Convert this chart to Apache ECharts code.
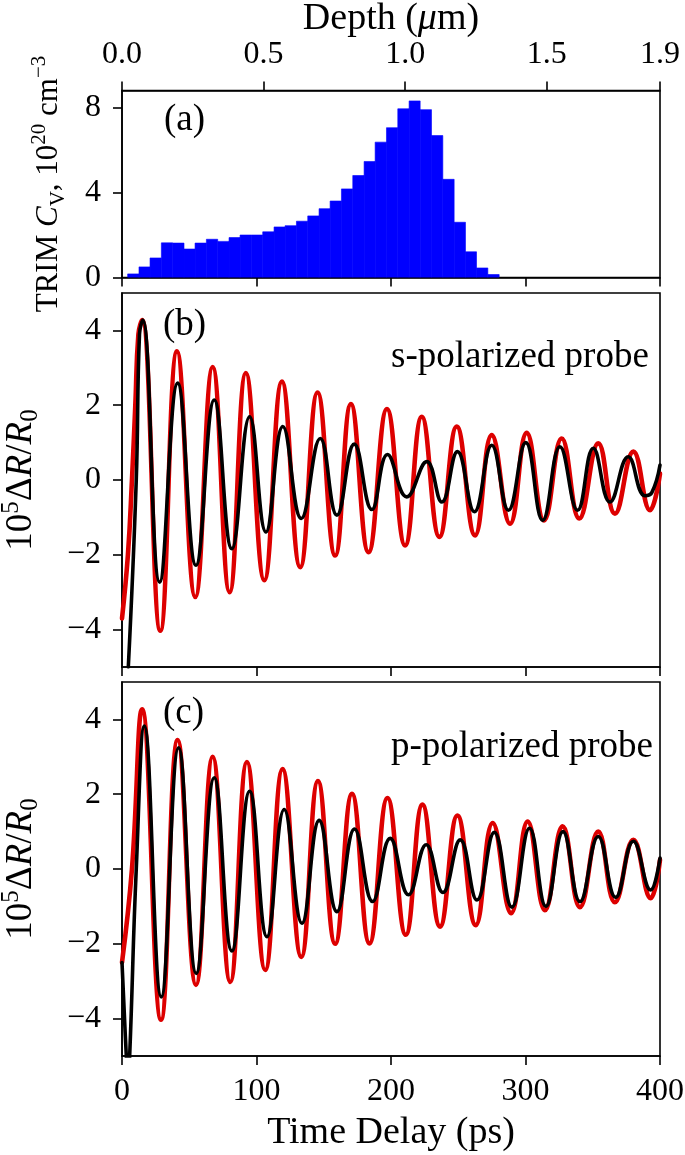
<!DOCTYPE html>
<html>
<head>
<meta charset="utf-8">
<script src="https://cdn.jsdelivr.net/npm/echarts@6/dist/echarts.min.js"></script>
<style>
html,body{margin:0;padding:0;background:#fff;}
#chart{width:685px;height:1155px;}
</style>
</head>
<body>
<div id="chart"></div>
<script>
// ---------- data ----------
// (a) TRIM vacancy concentration histogram: bin edges in depth (um) and heights (1e20 cm^-3)
const depthBinEdges = [0.020,0.060,0.099,0.139,0.179,0.219,0.258,0.298,0.338,0.378,0.417,0.457,0.497,0.537,0.576,0.616,0.656,0.696,0.735,0.775,0.815,0.855,0.894,0.934,0.974,1.014,1.053,1.093,1.133,1.173,1.213,1.252,1.292,1.332];
const cvValues = [0.17,0.50,0.92,1.63,1.62,1.34,1.62,1.80,1.70,1.88,2.00,2.00,2.15,2.38,2.44,2.65,2.90,3.24,3.60,4.17,4.80,5.46,6.37,7.05,7.94,8.31,7.90,6.68,4.62,2.60,1.21,0.45,0.14];
const depthTicks = [0, 0.5, 1.0, 1.5, 1.9];
const cvTicks = [0, 4, 8];
const drTicks = [-4, -2, 0, 2, 4];
const timeTicks = [0, 100, 200, 300, 400];

// (b) s-polarized probe: [time ps, 1e5 dR/R0]
const sRed = [[0,-3.7],[4.4,-2],[7.4,0],[9.9,2],[12.2,3.9],[14.9,4.28],[28.5,-4.03],[40.9,3.44],[54.5,-3.13],[67.4,3.02],[80,-3.0],[92.1,2.86],[105.8,-2.68],[118.9,2.63],[132.5,-2.33],[145.4,2.34],[158.5,-2.02],[170.2,2.03],[183.3,-1.93],[197,1.9],[210.5,-1.75],[222.9,1.69],[236,-1.52],[248.9,1.43],[262.5,-1.48],[274.9,1.2],[288.5,-1.17],[300.9,1.26],[313.8,-1.08],[326.9,1.11],[340,-1.03],[354.1,0.98],[366.5,-0.9],[380.2,0.76],[392.6,-0.81],[400,0.17]];
const sBlack = [[4.7,-5],[10.6,0],[13,3.9],[15.4,4.28],[28,-2.73],[41.4,2.59],[55,-2.28],[68.6,2.14],[81.7,-1.84],[94.9,1.69],[107,-1.39],[119.6,1.43],[133.3,-1.03],[147.4,1.11],[159.8,-0.94],[172.7,0.96],[185.8,-0.79],[197.4,0.68],[211.7,-0.45],[226.6,0.49],[237.8,-0.59],[249.4,0.76],[262,-0.85],[274.9,0.93],[287.3,-0.81],[300.2,1.0],[312.8,-1.08],[325.6,0.89],[338.7,-0.81],[350.4,0.85],[362.8,-0.59],[376.4,0.62],[388.8,-0.42],[394,-0.33],[400,0.4]];

// (c) p-polarized probe
const pRed = [[0,-2.5],[7.4,0],[14.9,4.27],[29,-4.03],[41.4,3.45],[55,-3.1],[67.4,3.0],[80.5,-3.02],[92.9,2.86],[106.5,-2.7],[119.4,2.67],[133.3,-2.35],[145.7,2.35],[158.5,-2.0],[171,2.01],[184,-1.99],[197.4,1.9],[211,-1.76],[223.4,1.72],[236.5,-1.54],[249.4,1.43],[263,-1.5],[275.6,1.23],[289.3,-1.18],[301.6,1.27],[314.5,-1.1],[327.6,1.14],[340.5,-1.02],[354.1,1.0],[366.5,-0.89],[380.2,0.78],[393.1,-0.78],[400,0.25]];
const pBlack = [[0,-2.5],[3.2,-5],[4.3,-5.6],[5.7,-5],[10.6,0],[16.6,3.82],[29.2,-3.42],[42.1,3.24],[55.2,-2.79],[68.6,2.44],[81.7,-2.19],[94.9,2.08],[107.8,-1.81],[120.6,1.59],[133.8,-1.45],[146.6,1.3],[159.8,-1.14],[172.9,1.07],[186.3,-0.87],[199.4,0.82],[213,-0.69],[226.2,0.65],[238.6,-0.63],[251.5,0.78],[263.9,-0.83],[276.8,0.98],[289.9,-1.02],[303,1.09],[315.2,-1.0],[327.9,1.0],[340.5,-0.87],[354.1,0.87],[367,-0.76],[380.2,0.74],[393,-0.56],[400,0.29]];

// ---------- chart ----------
const FONT = "'Liberation Serif', 'DejaVu Serif', serif";
const RED = '#dd0000';
const histData = cvValues.map((v, i) => [depthBinEdges[i], depthBinEdges[i + 1], v]);
const minus = v => (v < 0 ? '\u2212' + Math.abs(v) : String(v));

const lineW = 1.6;
function axisCommon() {
  return {
    axisLine: { show: true, onZero: false, lineStyle: { color: '#000', width: lineW } },
    axisTick: { show: true, inside: false, length: 9, lineStyle: { color: '#000', width: lineW } },
    splitLine: { show: false },
    axisLabel: { color: '#000', fontFamily: FONT, fontSize: 32 }
  };
}
function timeAxis(gridIndex, showLabels) {
  const a = axisCommon();
  return Object.assign(a, {
    type: 'value', gridIndex, min: 0, max: 400, interval: 100, position: 'bottom',
    axisLabel: Object.assign(a.axisLabel, { show: showLabels, margin: 20 })
  });
}
function drAxis(gridIndex) {
  const a = axisCommon();
  return Object.assign(a, {
    type: 'value', gridIndex, min: -5, max: 5,
    axisTick: Object.assign(a.axisTick, { customValues: drTicks }),
    axisLabel: Object.assign(a.axisLabel, { customValues: drTicks, margin: 21, formatter: minus }),
    name: '{n|10}{sup|5}{n|\u0394}{i|R}{n|/}{i|R}{sub|0}',
    nameLocation: 'middle', nameGap: 79,
    nameTextStyle: {
      color: '#000', fontFamily: FONT,
      rich: {
        n: { fontSize: 37, lineHeight: 44, fontFamily: FONT, color: '#000' },
        i: { fontSize: 37, lineHeight: 44, fontFamily: FONT, fontStyle: 'italic', color: '#000' },
        sup: { fontSize: 25, lineHeight: 44, fontFamily: FONT, verticalAlign: 'top', color: '#000' },
        sub: { fontSize: 25, lineHeight: 44, fontFamily: FONT, verticalAlign: 'bottom', color: '#000' }
      }
    }
  });
}
const gridBase = { left: 122, right: 25, show: true, borderColor: '#000', borderWidth: lineW, outerBoundsMode: 'none', containLabel: false };

const depthAxis = (function () {
  const a = axisCommon();
  return Object.assign(a, {
    type: 'value', gridIndex: 0, position: 'top', min: 0, max: 1.9,
    axisTick: Object.assign(a.axisTick, { customValues: depthTicks }),
    axisLabel: Object.assign(a.axisLabel, { customValues: depthTicks, margin: 20, formatter: v => v.toFixed(1) }),
    name: '{n|Depth (}{i|\u03bc}{n|m)}',
    nameLocation: 'middle', nameGap: 52,
    nameTextStyle: {
      rich: {
        n: { fontSize: 38, fontFamily: FONT, color: '#000' },
        i: { fontSize: 38, fontFamily: FONT, fontStyle: 'italic', color: '#000' }
      }
    }
  });
})();

const cvAxis = (function () {
  const a = axisCommon();
  return Object.assign(a, {
    type: 'value', gridIndex: 0, min: 0, max: 8.8,
    axisTick: Object.assign(a.axisTick, { customValues: cvTicks }),
    axisLabel: Object.assign(a.axisLabel, { customValues: cvTicks, margin: 21 }),
    name: '{n|TRIM }{i|C}{sub|V}{n|, 10}{sup|20}{n| cm}{sup|\u22123}',
    nameLocation: 'middle', nameGap: 53,
    nameTextStyle: {
      rich: {
        n: { fontSize: 31, lineHeight: 40, fontFamily: FONT, color: '#000' },
        i: { fontSize: 31, lineHeight: 40, fontFamily: FONT, fontStyle: 'italic', color: '#000' },
        sup: { fontSize: 21, lineHeight: 40, fontFamily: FONT, verticalAlign: 'top', color: '#000' },
        sub: { fontSize: 21, lineHeight: 40, fontFamily: FONT, verticalAlign: 'bottom', color: '#000' }
      }
    }
  });
})();

const timeAxisC = timeAxis(2, true);
Object.assign(timeAxisC, {
  name: 'Time Delay (ps)', nameLocation: 'middle', nameGap: 58,
  nameTextStyle: { color: '#000', fontFamily: FONT, fontSize: 38 }
});
timeAxisC.axisLabel.customValues = timeTicks;

function trace(data, color, width, xi, yi, z) {
  return {
    type: 'line', data, xAxisIndex: xi, yAxisIndex: yi, showSymbol: false, symbol: 'none',
    smooth: 0.45, clip: true, z,
    lineStyle: { color, width, cap: 'round', join: 'round' }
  };
}

const option = {
  animation: false,
  backgroundColor: '#fff',
  grid: [
    Object.assign({ top: 90.5, height: 187 }, gridBase),
    Object.assign({ top: 293, height: 374 }, gridBase),
    Object.assign({ top: 682, height: 374 }, gridBase)
  ],
  xAxis: [timeAxis(0, false), depthAxis, timeAxis(1, false), timeAxisC],
  yAxis: [cvAxis, drAxis(1), drAxis(2)],
  series: [
    {
      type: 'custom', coordinateSystem: 'cartesian2d', xAxisIndex: 1, yAxisIndex: 0,
      data: histData, encode: { x: [0, 1], y: 2 }, clip: true,
      renderItem: function (params, api) {
        const p0 = api.coord([api.value(0), api.value(2)]);
        const p1 = api.coord([api.value(1), 0]);
        return {
          type: 'rect',
          shape: { x: p0[0], y: p0[1], width: p1[0] - p0[0], height: p1[1] - p0[1] },
          style: { fill: '#0000ff', stroke: '#0000ff', lineWidth: 0.6 }
        };
      }
    },
    trace(sRed, RED, 4.6, 2, 1, 2),
    trace(sBlack, '#000', 3.6, 2, 1, 3),
    trace(pRed, RED, 4.6, 3, 2, 2),
    trace(pBlack, '#000', 3.6, 3, 2, 3)
  ],
  graphic: [
    { type: 'text', left: 164, top: 102, style: { text: '(a)', font: "37px " + FONT, fill: '#000' } },
    { type: 'text', left: 163, top: 307, style: { text: '(b)', font: "37px " + FONT, fill: '#000' } },
    { type: 'text', left: 163, top: 695, style: { text: '(c)', font: "37px " + FONT, fill: '#000' } },
    { type: 'text', left: 391, top: 339, style: { text: 's-polarized probe', font: "37px " + FONT, fill: '#000' } },
    { type: 'text', left: 391, top: 729, style: { text: 'p-polarized probe', font: "37px " + FONT, fill: '#000' } }
  ]
};

const chart = echarts.init(document.getElementById('chart'), null, { renderer: 'canvas' });
chart.setOption(option);
</script>
</body>
</html>
